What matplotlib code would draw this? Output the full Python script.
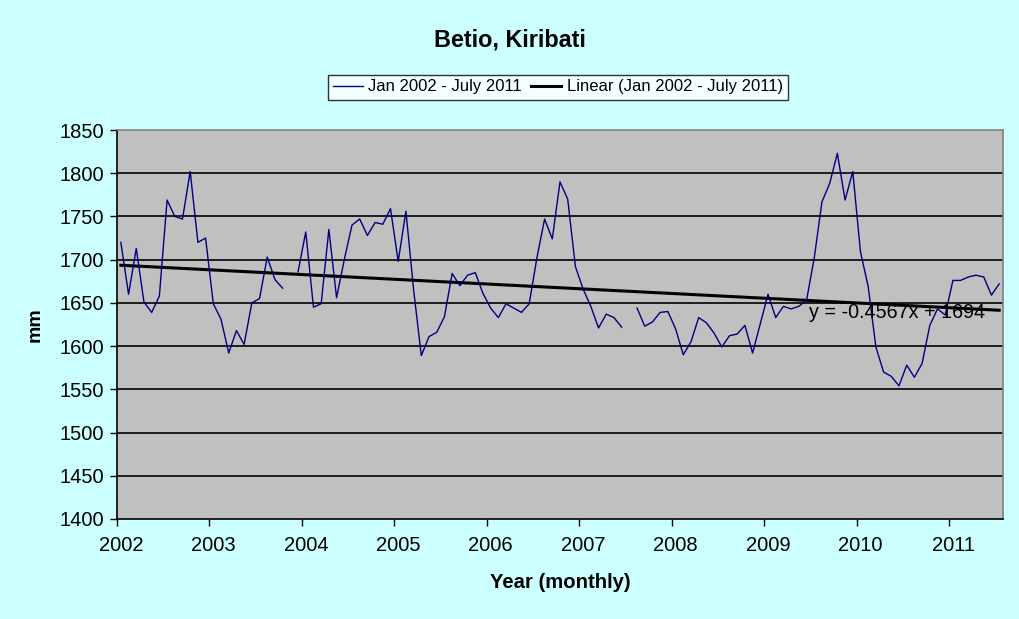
import matplotlib.pyplot as plt
import matplotlib.transforms as mtransforms
import numpy as np

plt.rcParams['font.family'] = ['Liberation Sans', 'DejaVu Sans']

# monthly mean sea level (mm), Jan 2002 .. July 2011, None = missing month
sea_level = [
    1720, 1660, 1713, 1651, 1639, 1658, 1769, 1750, 1747, 1802, 1720, 1725,  # 2002
    1649, 1631, 1592, 1618, 1602, 1650, 1655, 1703, 1677, 1667, None, 1686,  # 2003
    1732, 1645, 1649, 1735, 1656, 1700, 1740, 1747, 1728, 1743, 1741, 1759,  # 2004
    1698, 1756, 1665, 1589, 1611, 1616, 1634, 1684, 1670, 1682, 1685, 1661,  # 2005
    1644, 1633, 1649, 1644, 1639, 1649, 1702, 1747, 1724, 1790, 1770, 1692,  # 2006
    1666, 1646, 1621, 1637, 1633, 1622, None, 1644, 1623, 1628, 1639, 1640,  # 2007
    1620, 1590, 1605, 1633, 1627, 1615, 1599, 1612, 1614, 1624, 1592, 1626,  # 2008
    1660, 1633, 1646, 1643, 1646, 1653, 1702, 1767, 1788, 1823, 1769, 1802,  # 2009
    1709, 1669, 1599, 1570, 1565, 1554, 1578, 1564, 1580, 1624, 1643, 1636,  # 2010
    1676, 1676, 1680, 1682, 1680, 1659, 1672,                                # 2011
]
trend_slope = -0.4567
trend_intercept = 1694
start_year = 2002
year_ticks = list(range(2002, 2012))
y_ticks = list(range(1400, 1851, 50))

values = np.array([np.nan if v is None else v for v in sea_level], dtype=float)
n = len(values)
idx = np.arange(n)
x = start_year + (idx + 0.5) / 12
trend = trend_slope * (idx + 1) + trend_intercept

bg = '#CCFFFF'
fig = plt.figure(figsize=(10.2, 6.19), dpi=100, facecolor=bg)
ax = fig.add_axes([117 / 1020, 1 - 519 / 619, 886 / 1020, 389 / 619])
ax.set_facecolor('#C0C0C0')

for yv in y_ticks[1:-1]:
    ax.axhline(yv, color='black', lw=1.2, zorder=1)

ax.plot(x, values, color='#000080', lw=1.0, label='Jan 2002 - July 2011', zorder=3)
ax.plot(x, trend, color='black', lw=2.2, label='Linear (Jan 2002 - July 2011)', zorder=2)

ax.text(2009.48, 1639, 'y = -0.4567x + 1694', fontsize=14.2, ha='left', va='center', zorder=4)

ax.set_xlim(start_year, start_year + n / 12)
ax.set_ylim(1400, 1850)
ax.set_xticks(year_ticks)
ax.set_xticklabels([str(y) for y in year_ticks])
ax.set_yticks(y_ticks)
ax.tick_params(axis='both', direction='out', length=5, width=1, labelsize=14.5, colors='black')
ax.tick_params(axis='x', pad=7)
ax.tick_params(axis='y', pad=4)

# year labels sit a little right of their tick, as in the original
shift = mtransforms.ScaledTranslation(4 / 100, 0, fig.dpi_scale_trans)
for lbl in ax.get_xticklabels():
    lbl.set_transform(lbl.get_transform() + shift)

ax.spines['left'].set_color('black')
ax.spines['bottom'].set_color('black')
ax.spines['top'].set_color('#808080')
ax.spines['right'].set_color('#808080')
for s in ax.spines.values():
    s.set_linewidth(1.2)

ax.set_xlabel('Year (monthly)', fontsize=14.6, fontweight='bold', labelpad=13)
ax.set_ylabel('mm', fontsize=14, fontweight='bold', labelpad=12)

fig.text(510 / 1020, 1 - 40 / 619, 'Betio, Kiribati', fontsize=16.8, fontweight='bold',
         ha='center', va='center')

leg = fig.legend(loc='center', bbox_to_anchor=(558 / 1020, 1 - 87 / 619), ncol=2,
                 fontsize=12, frameon=True, fancybox=False, edgecolor='black',
                 handlelength=1.8, handletextpad=0.35, columnspacing=0.55,
                 borderpad=0.3, borderaxespad=0)
leg.get_frame().set_facecolor('white')
leg.get_frame().set_linewidth(1.0)

fig.savefig('out.png', dpi=100, facecolor=bg)
